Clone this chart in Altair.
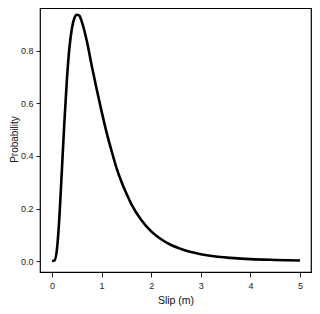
import altair as alt
import pandas as pd

slip = [0.0, 0.05, 0.1, 0.15, 0.2, 0.25, 0.3, 0.35, 0.4, 0.45, 0.5, 0.55, 0.6,
        0.7, 0.8, 0.9, 1.0, 1.1, 1.2, 1.3, 1.4, 1.5, 1.6, 1.8, 2.0, 2.2, 2.4,
        2.6, 2.8, 3.0, 3.3, 3.6, 4.0, 4.5, 5.0]
prob = [0.0, 0.002, 0.045, 0.17, 0.35, 0.53, 0.69, 0.81, 0.885, 0.925, 0.938,
        0.935, 0.912, 0.84, 0.745, 0.655, 0.57, 0.49, 0.42, 0.355, 0.302,
        0.257, 0.217, 0.156, 0.113, 0.083, 0.061, 0.046, 0.034, 0.026, 0.017,
        0.012, 0.007, 0.004, 0.002]
x_ticks = [0, 1, 2, 3, 4, 5]
y_ticks = [0.0, 0.2, 0.4, 0.6, 0.8]

df = pd.DataFrame({"slip": slip, "prob": prob})

FONT = "Liberation Sans"

chart = alt.Chart(df).mark_line(
    color="black", strokeWidth=2.6, interpolate="monotone", clip=True
).encode(
    x=alt.X("slip:Q", scale=alt.Scale(domain=[-0.242, 5.222], nice=False, zero=False),
            axis=alt.Axis(values=x_ticks, format="d", title="Slip (m)", grid=False,
                          domain=False, tickSize=5, tickColor="#222", labelPadding=4,
                          labelFontSize=9, labelColor="#222", labelFont=FONT,
                          titleFont=FONT, titleFontSize=10.5, titleFontWeight="normal",
                          titleColor="#111", titleBaseline="middle", titleY=28)),
    y=alt.Y("prob:Q", scale=alt.Scale(domain=[-0.0419, 0.9638], nice=False, zero=False),
            axis=alt.Axis(values=y_ticks, format=".1f", title="Probability", grid=False,
                          domain=False, tickSize=4, tickColor="#222", labelPadding=3,
                          labelFontSize=9, labelColor="#222", labelFont=FONT,
                          titleFont=FONT, titleFontSize=10, titleFontWeight="normal",
                          titleColor="#111", titleAngle=270, titleBaseline="middle",
                          titleAlign="center", titleX=-26, titleY=131)),
).properties(
    width=271, height=264,
    autosize=alt.AutoSizeParams(type="none"),
    padding={"left": 32, "top": 0, "right": 1, "bottom": 34},
).configure_view(
    stroke="black", strokeWidth=1.2
)

chart.save("out.html", embed_options={"renderer": "svg", "actions": False})
